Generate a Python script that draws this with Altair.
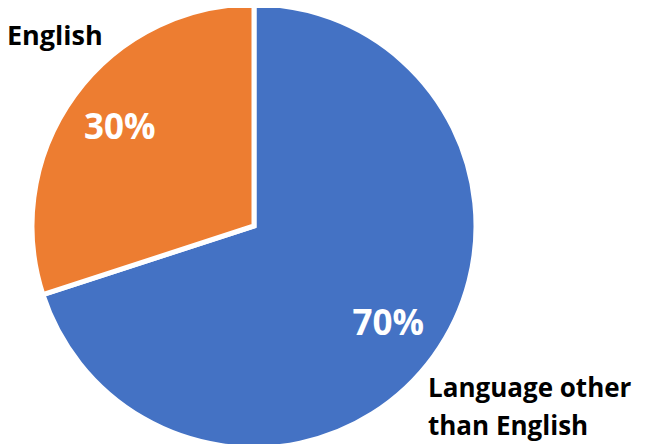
import altair as alt
import pandas as pd

categories = ["Language other than English", "English"]
values = [70, 30]
labels = ["70%", "30%"]
colors = ["#4472C4", "#ED7D31"]

df = pd.DataFrame({"category": categories, "value": values, "label": labels, "order": [0, 1]})

base = alt.Chart(df).encode(
    theta=alt.Theta("value:Q", stack=True),
    order=alt.Order("order:Q"),
)

pie = base.mark_arc(outerRadius=222, stroke="white", strokeWidth=5).encode(
    color=alt.Color("category:N", scale=alt.Scale(domain=categories, range=colors), legend=None)
)

pct = base.mark_text(radius=166, font="Open Sans", fontWeight="bold", fontSize=35, color="white").encode(
    text="label:N"
)

eng = alt.Chart(pd.DataFrame({"t": [categories[1]]})).mark_text(
    font="Open Sans", fontWeight="bold", fontSize=27, color="black", align="left", baseline="alphabetic"
).encode(x=alt.value(-1), y=alt.value(37), text="t:N")

other = alt.Chart(pd.DataFrame({"t": [["Language other", "than English"]]})).mark_text(
    font="Open Sans", fontWeight="bold", fontSize=26, color="black", align="left", baseline="alphabetic", lineHeight=38
).encode(x=alt.value(420), y=alt.value(389), text="t")

chart = alt.layer(pie, pct, eng, other).properties(
    width=492, height=436, autosize="none",
    padding={"left": 0, "top": 0, "right": 144, "bottom": 0},
).configure_view(stroke=None)

chart.save("out.html", embed_options={"renderer": "svg", "actions": False})
